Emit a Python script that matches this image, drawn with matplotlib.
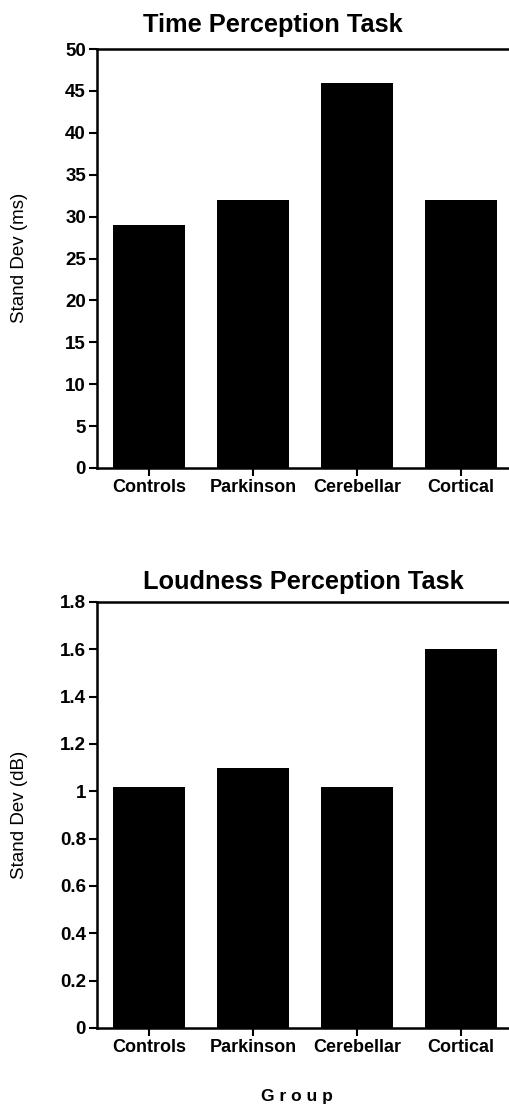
import matplotlib
matplotlib.use('Agg')
import matplotlib.pyplot as plt

plt.rcParams['font.family'] = ['Liberation Sans', 'DejaVu Sans']

groups = ['Controls', 'Parkinson', 'Cerebellar', 'Cortical']
time_sd = [29, 32, 46, 32]
loud_sd = [1.02, 1.1, 1.02, 1.6]

time_ticks = [0, 5, 10, 15, 20, 25, 30, 35, 40, 45, 50]
loud_ticks = [0, 0.2, 0.4, 0.6, 0.8, 1.0, 1.2, 1.4, 1.6, 1.8]
loud_tick_labels = ['0', '0.2', '0.4', '0.6', '0.8', '1', '1.2', '1.4', '1.6', '1.8']


def style_axes(ax, ticks, tick_labels, ymax):
    ax.set_ylim(0, ymax)
    ax.set_xlim(-0.5, 3.5)
    ax.set_yticks(ticks)
    ax.set_yticklabels(tick_labels, fontsize=13.5, fontweight='bold')
    ax.set_xticks(range(len(groups)))
    ax.set_xticklabels(groups, fontsize=13, fontweight='bold')
    ax.tick_params(axis='both', direction='out', length=6, width=1.5, pad=2)
    for side in ['left', 'top', 'bottom']:
        ax.spines[side].set_linewidth(1.8)
    ax.spines['right'].set_visible(False)


def main():
    W, H = 509, 1109
    fig = plt.figure(figsize=(W / 100, H / 100), dpi=100)

    # axes extend a little past the right edge, like the cropped original
    ax1 = fig.add_axes([97 / W, 1 - 468 / H, 416 / W, 419 / H])
    ax2 = fig.add_axes([97 / W, 1 - 1028 / H, 416 / W, 426 / H])

    x = range(len(groups))
    ax1.bar(x, time_sd, width=0.69, color='black')
    ax2.bar(x, loud_sd, width=0.69, color='black')

    style_axes(ax1, time_ticks, [str(t) for t in time_ticks], 50)
    style_axes(ax2, loud_ticks, loud_tick_labels, 1.8)

    fig.text(20 / W, 1 - 258 / H, 'Stand Dev (ms)', fontsize=13.5, rotation=90,
             ha='center', va='center')
    fig.text(20 / W, 1 - 815 / H, 'Stand Dev (dB)', fontsize=13.5, rotation=90,
             ha='center', va='center')

    fig.text(273 / W, 1 - 25 / H, 'Time Perception Task', fontsize=18.3,
             fontweight='bold', ha='center', va='center')
    fig.text(303 / W, 1 - 582 / H, 'Loudness Perception Task', fontsize=18.3,
             fontweight='bold', ha='center', va='center')
    fig.text(297 / W, 1 - 1097 / H, 'G r o u p', fontsize=12.5, fontweight='bold',
             ha='center', va='center')

    fig.savefig('out.png', dpi=100)


if __name__ == '__main__':
    main()
